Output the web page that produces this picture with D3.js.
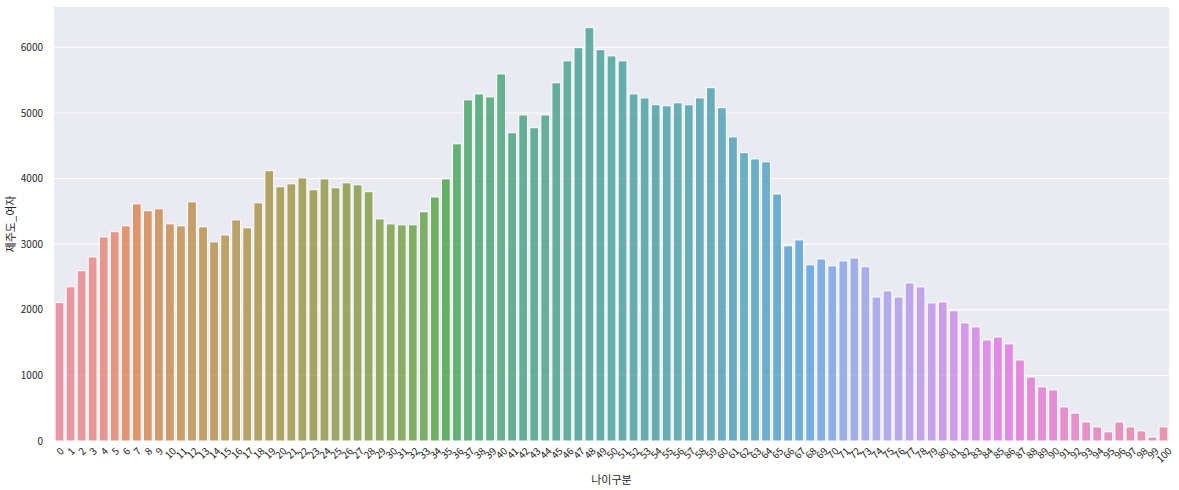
<!DOCTYPE html>
<html><head><meta charset="utf-8">
<script src="https://cdn.jsdelivr.net/npm/d3@7"></script>
<style>body{margin:0;background:#fff}text{font-family:"Noto Sans CJK KR","Noto Sans",sans-serif}</style>
</head><body>
<svg id="chart" width="1179" height="490"></svg>
<script>
const categories = d3.range(0, 101).map(String);
const values = [2110,2350,2595,2805,3110,3190,3280,3615,3510,3540,
3310,3280,3645,3265,3035,3140,3370,3250,3630,4120,
3875,3920,4010,3830,3995,3860,3935,3905,3800,3385,
3310,3295,3295,3495,3720,3995,4530,5200,5290,5245,
5595,4700,4970,4775,4970,5460,5795,5995,6300,5965,
5870,5795,5290,5230,5125,5110,5155,5125,5230,5385,
5080,4635,4395,4300,4255,3765,2975,3065,2685,2775,
2670,2745,2790,2655,2195,2290,2195,2410,2350,2105,
2120,1985,1800,1740,1540,1585,1480,1235,975,825,
780,520,425,290,215,140,290,215,155,60,215];
const yTicks = [0,1000,2000,3000,4000,5000,6000];
const xLabel = "나이구분";
const yLabel = "제주도_여자";

// HUSL (seaborn) -> RGB
const M = [[3.2406,-1.5372,-0.4986],[-0.9689,1.8758,0.0415],[0.0557,-0.2040,1.0570]];
const refU=0.19784, refV=0.46834, labE=0.008856, labK=903.3;
function maxChroma(L,H){
  const hr=H/360*2*Math.PI, s=Math.sin(hr), c=Math.cos(hr);
  let sub1=Math.pow(L+16,3)/1560896, sub2=sub1>labE?sub1:L/labK;
  let res=Infinity;
  for(const [m1,m2,m3] of M){
    const top=(0.99915*m1+1.05122*m2+1.14460*m3)*sub2;
    const rb=0.86330*m3-0.17266*m2, lb=0.12949*m3-0.38848*m1;
    const bottom=(rb*s+lb*c)*sub2;
    for(const t of [0,1]){
      const C=L*(top-1.05122*t)/(bottom+0.17266*s*t);
      if(C>0&&C<res)res=C;
    }
  }
  return res;
}
function fInv(t){return Math.pow(t,3)>labE?Math.pow(t,3):(116*t-16)/labK;}
function fromLin(c){return c<=0.0031308?12.92*c:1.055*Math.pow(c,1/2.4)-0.055;}
function huslToRgb(H,S,L){
  const C=maxChroma(L,H)/100*S, hr=H/360*2*Math.PI;
  const U=Math.cos(hr)*C, V=Math.sin(hr)*C;
  const vY=fInv((L+16)/116), vU=U/(13*L)+refU, vV=V/(13*L)+refV;
  const Y=vY, X=-(9*Y*vU)/((vU-4)*vV-vU*vV), Z=(9*Y-15*vV*Y-vV*X)/(3*vV);
  return M.map(r=>Math.min(1,Math.max(0,fromLin(r[0]*X+r[1]*Y+r[2]*Z))));
}
function desat(rgb,p){
  const c=d3.hsl(d3.rgb(rgb[0]*255,rgb[1]*255,rgb[2]*255));
  c.s*=p; return c.formatHex();
}
const n=categories.length;
const colors=categories.map((d,i)=>{
  let h=(i/n+0.01)%1; h*=359;
  return desat(huslToRgb(h,0.9*99,0.65*99),0.75);
});

const svg=d3.select("#chart");
const m={l:54,r:10,t:7,b:49};
const W=1179-m.l-m.r, H=490-m.t-m.b;
const g=svg.append("g").attr("transform",`translate(${m.l},${m.t})`);
g.append("rect").attr("width",W).attr("height",H).attr("fill","#EAEAF2");
const x=d3.scaleBand().domain(categories).range([0,W]).paddingInner(0.2).paddingOuter(0.1);
const y=d3.scaleLinear().domain([0,6615]).range([H,0]);

g.selectAll("line.grid").data(yTicks).join("line").attr("class","grid")
 .attr("x1",0).attr("x2",W).attr("y1",d=>y(d)).attr("y2",d=>y(d))
 .attr("stroke","#fff").attr("stroke-width",1);

g.selectAll("rect.bar").data(values).join("rect").attr("class","bar")
 .attr("x",(d,i)=>x(categories[i])).attr("width",x.bandwidth())
 .attr("y",d=>y(d)).attr("height",d=>y(0)-y(d))
 .attr("fill",(d,i)=>colors[i]).attr("fill-opacity",0.8)
 .attr("stroke","#fff").attr("stroke-width",1);

const ya=d3.axisLeft(y).tickValues(yTicks).tickSize(0).tickPadding(11).tickFormat(d3.format("d"));
const yg=g.append("g").call(ya);
yg.select(".domain").remove();
yg.selectAll("text").attr("font-size",10).attr("fill","#262626").style("font-family",'"Noto Sans CJK KR",sans-serif');

const xa=d3.axisBottom(x).tickSize(0).tickPadding(0);
const xg=g.append("g").attr("transform",`translate(0,${H})`).call(xa);
xg.select(".domain").remove();
xg.selectAll("text").each(function(d){
  const t=d3.select(this);
  t.attr("font-size",10).attr("fill","#262626").style("font-family",'"Noto Sans CJK KR",sans-serif');
  const w=this.getComputedTextLength();
  const bh=(w+10)*Math.SQRT1_2;
  t.attr("y",0).attr("dy",null).attr("text-anchor","middle").attr("dominant-baseline","central")
   .attr("transform",`translate(0,${4+bh/2}) rotate(-45)`);
});

svg.append("text").attr("x",m.l+W/2).attr("y",484).attr("text-anchor","middle")
 .attr("font-size",11).attr("fill","#262626").text(xLabel);
svg.append("text").attr("transform",`translate(15,${m.t+H/2}) rotate(-90)`).attr("text-anchor","middle")
 .attr("font-size",11).attr("fill","#262626").text(yLabel);
</script>
</body></html>
